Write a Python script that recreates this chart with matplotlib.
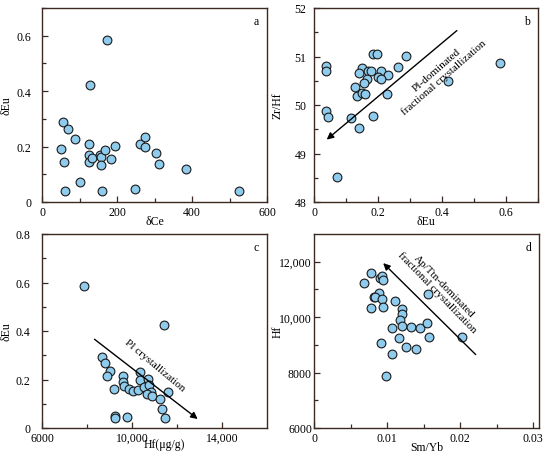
import matplotlib
matplotlib.use("Agg")
import matplotlib.pyplot as plt
from matplotlib.ticker import MultipleLocator, FixedLocator, FuncFormatter

plt.rcParams["font.family"] = ["Liberation Serif", "DejaVu Serif"]

# ---- panel a: dCe vs dEu
a_ce = [173, 129, 56, 69, 88, 50, 124, 124, 124, 134, 154, 158, 167, 195,
        183, 156, 58, 102, 61, 161, 249, 260, 275, 275, 303, 313, 385, 525]
a_eu = [0.584, 0.422, 0.288, 0.265, 0.229, 0.193, 0.211, 0.169, 0.144, 0.157,
        0.169, 0.161, 0.186, 0.203, 0.154, 0.132, 0.145, 0.073, 0.041, 0.041,
        0.047, 0.211, 0.233, 0.199, 0.176, 0.137, 0.119, 0.038]

# ---- panel b: dEu vs Zr/Hf
b_eu = [0.185, 0.197, 0.287, 0.581, 0.039, 0.039, 0.149, 0.140, 0.170, 0.177,
        0.209, 0.263, 0.230, 0.200, 0.208, 0.167, 0.155, 0.128, 0.134, 0.149,
        0.160, 0.227, 0.419, 0.037, 0.045, 0.115, 0.184, 0.142, 0.071]
b_zrhf = [51.05, 51.05, 51.01, 50.87, 50.80, 50.70, 50.76, 50.67, 50.71, 50.71,
          50.71, 50.78, 50.62, 50.58, 50.53, 50.54, 50.45, 50.37, 50.19, 50.24,
          50.22, 50.22, 50.49, 49.87, 49.75, 49.73, 49.77, 49.52, 48.51]

# ---- panel c: Hf vs dEu
c_hf = [7862, 11408, 8667, 8816, 9039, 8905, 9219, 9606, 9620, 9650, 9859,
        10053, 10261, 10336, 10336, 10545, 10708, 10738, 10828, 10649, 10872,
        11230, 11349, 11602, 11483, 9233, 9233, 9785]
c_eu = [0.587, 0.425, 0.291, 0.269, 0.235, 0.213, 0.159, 0.214, 0.188, 0.172,
        0.162, 0.154, 0.155, 0.232, 0.200, 0.170, 0.204, 0.177, 0.147, 0.139,
        0.132, 0.119, 0.077, 0.147, 0.041, 0.048, 0.041, 0.044]

# ---- panel d: Sm/Yb vs Hf
d_smyb = [0.00785, 0.0069, 0.0091, 0.0093, 0.0094, 0.00886, 0.0082, 0.0084,
          0.00927, 0.00785, 0.0094, 0.0111, 0.0121, 0.0120, 0.0118, 0.0121,
          0.0107, 0.0133, 0.0145, 0.0155, 0.0156, 0.0157, 0.0116, 0.00913,
          0.0126, 0.0140, 0.0107, 0.0098, 0.0203]
d_hf = [11580, 11221, 11400, 11480, 11330, 10865, 10720, 10720, 10660, 10330,
        10350, 10570, 10280, 10100, 9910, 9680, 9620, 9630, 9620, 9790, 10830,
        9270, 9230, 9050, 8930, 8840, 8680, 7880, 9270]

SPINE = "#3b2a22"
FACE = "#8ecbec"
FS = 8.5

fig = plt.figure(figsize=(5.5, 4.56), dpi=100)
W, H = 550, 456


def make_ax(l, t, r, b):
    return fig.add_axes([l / W, 1 - b / H, (r - l) / W, (b - t) / H])


def style(ax, letter, ypad, ylab_x):
    for s in ax.spines.values():
        s.set_color(SPINE)
        s.set_linewidth(1.0)
    ax.tick_params(which="both", direction="in", colors=SPINE, labelcolor="black",
                   labelsize=FS, top=False, right=False)
    ax.tick_params(which="major", length=4, width=0.9, pad=3)
    ax.tick_params(which="minor", length=3, width=0.9)
    ax.tick_params(axis="y", which="major", pad=ypad)
    ax.yaxis.set_label_coords(ylab_x, 0.5)
    ax.text(0.965, 0.965, letter, transform=ax.transAxes, ha="right", va="top",
            fontsize=FS)


def scat(ax, x, y):
    ax.scatter(x, y, s=40, c=FACE, edgecolors="#1a1a1a", linewidths=0.8,
               zorder=3, clip_on=False)


def dec(n):
    return FuncFormatter(lambda v, p: "0" if v == 0 else f"{v:.{n}f}")


comma = FuncFormatter(lambda v, p: f"{int(v):,}" if v >= 10000 else f"{int(v)}")
arrow = dict(arrowstyle="-|>", color="black", lw=1.0, mutation_scale=10)

# a
ax = make_ax(42, 9, 267, 203)
scat(ax, a_ce, a_eu)
ax.set_xlim(0, 600)
ax.set_ylim(0, 0.7)
ax.xaxis.set_major_locator(MultipleLocator(200))
ax.xaxis.set_minor_locator(MultipleLocator(100))
ax.yaxis.set_major_locator(FixedLocator([0, 0.2, 0.4, 0.6]))
ax.yaxis.set_minor_locator(MultipleLocator(0.1))
ax.yaxis.set_major_formatter(dec(1))
ax.set_xlabel("δCe", fontsize=FS, labelpad=-2)
ax.set_ylabel("δEu", fontsize=FS)
style(ax, "a", 7.5, -0.13)

# b
ax = make_ax(314, 9, 538, 203)
scat(ax, b_eu, b_zrhf)
ax.set_xlim(0, 0.7)
ax.set_ylim(48, 52)
ax.xaxis.set_major_locator(FixedLocator([0, 0.2, 0.4, 0.6]))
ax.xaxis.set_minor_locator(MultipleLocator(0.1))
ax.xaxis.set_major_formatter(dec(1))
ax.yaxis.set_major_locator(MultipleLocator(1))
ax.yaxis.set_minor_locator(MultipleLocator(0.5))
ax.annotate("", xy=(0.033, 49.25), xytext=(0.453, 51.57), arrowprops=arrow)
ax.text(0.395, 50.66, "Pl-dominated\nfractional crystallization", rotation=41,
        rotation_mode="anchor", ha="center", va="center", fontsize=FS - 0.5,
        linespacing=1.0)
ax.set_xlabel("δEu", fontsize=FS, labelpad=-2)
ax.set_ylabel("Zr/Hf", fontsize=FS)
style(ax, "b", 5.5, -0.135)

# c
ax = make_ax(42, 235, 267, 429)
scat(ax, c_hf, c_eu)
ax.set_xlim(6000, 16000)
ax.set_ylim(0, 0.8)
ax.xaxis.set_major_locator(FixedLocator([6000, 10000, 14000]))
ax.xaxis.set_minor_locator(FixedLocator([8000, 12000]))
ax.xaxis.set_major_formatter(comma)
ax.yaxis.set_major_locator(MultipleLocator(0.2))
ax.yaxis.set_minor_locator(MultipleLocator(0.1))
ax.yaxis.set_major_formatter(dec(1))
ax.annotate("", xy=(13018, 0.030), xytext=(8235, 0.373), arrowprops=arrow)
ax.text(11000, 0.262, "Pl crystallization", rotation=-40, rotation_mode="anchor",
        ha="center", va="center", fontsize=FS - 0.5)
ax.set_xlabel("Hf(μg/g)", fontsize=FS)
ax.xaxis.set_label_coords(0.545, -0.052)
ax.set_ylabel("δEu", fontsize=FS)
style(ax, "c", 8.5, -0.13)

# d
ax = make_ax(314, 235, 539, 429)
scat(ax, d_smyb, d_hf)
ax.set_xlim(0, 0.0308)
ax.set_ylim(6000, 13000)
ax.xaxis.set_major_locator(FixedLocator([0, 0.01, 0.02, 0.03]))
ax.xaxis.set_minor_locator(FixedLocator([0.005, 0.015, 0.025]))
ax.xaxis.set_major_formatter(dec(2))
ax.yaxis.set_major_locator(FixedLocator([6000, 8000, 10000, 12000]))
ax.yaxis.set_minor_locator(FixedLocator([7000, 9000, 11000]))
ax.yaxis.set_major_formatter(comma)
ax.annotate("", xy=(0.0092, 12020), xytext=(0.0224, 8580), arrowprops=arrow)
ax.text(0.0173, 11020, "Ap/Ttn-dominated\nfractional crystallization",
        rotation=-46, rotation_mode="anchor", ha="center", va="center",
        fontsize=FS - 0.5, linespacing=1.0)
ax.set_xlabel("Sm/Yb", fontsize=FS, labelpad=-2)
ax.set_ylabel("Hf", fontsize=FS)
style(ax, "d", 1.5, -0.135)

fig.savefig("out.png", dpi=100)
